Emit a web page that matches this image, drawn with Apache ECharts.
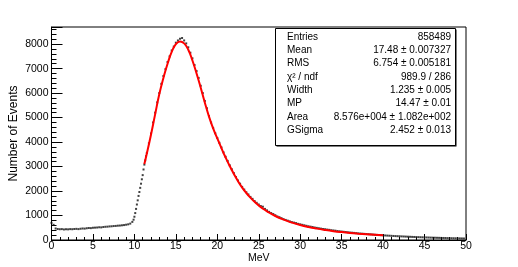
<!DOCTYPE html>
<html><head><meta charset="utf-8">
<script src="https://cdn.jsdelivr.net/npm/echarts@6/dist/echarts.min.js"></script>
<style>html,body{margin:0;padding:0;background:#fff}#c{width:518px;height:267px}</style>
</head><body><div id="c"></div>
<script>
// Histogram points (MeV, events)
const energy = [0,0.25,0.5,0.75,1,1.25,1.5,1.75,2,2.25,2.5,2.75,3,3.25,3.5,3.75,4,4.25,4.5,4.75,5,5.25,5.5,5.75,6,6.25,6.5,6.75,7,7.25,7.5,7.75,8,8.25,8.5,8.75,9,9.25,9.5,9.75,
9.9,10.0,10.1,10.2,10.3,10.4,10.5,10.6,10.7,10.8,10.9,11.0,11.1,11.2,11.3,11.4,11.5,
11.75,12,12.25,12.5,12.75,13,13.25,13.5,13.75,14,14.25,14.5,14.75,15,15.25,15.5,15.75,16,16.25,16.5,16.75,17,17.25,17.5,17.75,18,18.25,18.5,18.75,19,19.25,19.5,19.75,20,20.25,20.5,20.75,21,21.25,21.5,21.75,22,22.25,22.5,22.75,23,23.25,23.5,23.75,24,24.25,24.5,24.75,25,25.25,25.5,25.75,26,26.25,26.5,26.75,27,27.25,27.5,27.75,28,28.25,28.5,28.75,29,29.25,29.5,29.75,30,30.25,30.5,30.75,31,31.25,31.5,31.75,32,32.25,32.5,32.75,33,33.25,33.5,33.75,34,34.25,34.5,34.75,35,35.25,35.5,35.75,36,36.25,36.5,36.75,37,37.25,37.5,37.75,38,38.25,38.5,38.75,39,39.25,39.5,39.75,40,40.25,40.5,40.75,41,41.25,41.5,41.75,42,42.25,42.5,42.75,43,43.25,43.5,43.75,44,44.25,44.5,44.75,45,45.25,45.5,45.75,46,46.25,46.5,46.75,47,47.25,47.5,47.75,48,48.25,48.5,48.75,49,49.25,49.5,49.75];
const events = [700,620,470,450,440,445,430,440,435,445,440,450,455,445,460,470,465,480,490,485,500,505,510,520,515,530,540,545,555,560,570,575,585,590,600,610,625,640,670,740,
830,950,1100,1270,1450,1620,1800,1960,2130,2300,2480,2650,2880,3080,3250,3420,3560,
3950,4350,4800,5200,5620,6000,6380,6700,6980,7270,7500,7740,7900,8060,8150,8220,8250,8150,8030,7870,7650,7420,7150,6900,6620,6300,6000,5680,5380,5060,4800,4580,4360,4170,3970,3780,3580,3400,3230,3050,2890,2730,2570,2430,2300,2170,2060,1950,1860,1760,1680,1590,1520,1450,1390,1360,1270,1210,1150,1100,1060,1010,960,930,890,850,820,790,760,730,710,690,660,640,620,600,580,560,545,530,510,495,480,465,450,440,425,415,400,390,380,365,355,345,335,325,315,305,298,290,280,272,265,258,250,243,236,230,222,215,208,202,197,192,185,180,175,170,165,160,156,152,147,143,139,135,131,127,124,120,117,113,110,107,104,101,98,95,93,90,88,85,83,81,78,76,74,72,70,68,66,64,62];
// Fit curve (MeV, events)
const fitX = [11.2,11.5,12,12.5,13,13.5,14,14.5,15,15.5,16,16.5,17,17.5,18,18.5,19,19.5,20,20.5,21,21.5,22,22.5,23,23.5,24,24.5,25,25.5,26,27,28,29,30,31,32,33,34,35,36,37,38,39,40];
const fitY = [3100,3530,4300,5130,5950,6620,7200,7680,8000,8110,8030,7770,7330,6800,6220,5610,5040,4560,4150,3750,3370,3020,2700,2400,2140,1920,1730,1560,1410,1280,1170,980,830,710,610,530,465,410,362,322,288,260,236,214,196];
const xTicks = {min:0, max:50, step:5};
const yTicks = {min:0, max:8700, step:1000};
const statLabels = ['Entries','Mean','RMS','χ² / ndf','Width','MP','Area','GSigma'];
const statValues = ['858489','17.48 ± 0.007327','6.754 ± 0.005181','989.9 / 286','1.235 ± 0.005','14.47 ± 0.01','8.576e+004 ± 1.082e+002','2.452 ± 0.013'];

const FONT = 'Liberation Sans, Arial, Helvetica, sans-serif';
const chart = echarts.init(document.getElementById('c'), null, {renderer:'canvas'});
const pts = energy.map((x,i)=>[x, events[i]]);
const fit = fitX.map((x,i)=>[x, fitY[i]]);

const graphics = [];
const bx = 275, by = 28, bw = 180, bh = 117, rowH = 13.3, row0 = 37;
graphics.push({type:'rect', shape:{x:bx+1.5,y:by+1.5,width:bw,height:bh}, style:{fill:'#000'}, z:10});
graphics.push({type:'rect', shape:{x:bx+0.5,y:by+0.5,width:bw,height:bh}, style:{fill:'#fff', stroke:'#000', lineWidth:1}, z:11});
statLabels.forEach((t,i)=>{
  graphics.push({type:'text', x:bx+12, y:row0+rowH*i, z:12, style:{text:t, font:'10px '+FONT, fill:'#000', textVerticalAlign:'middle', textAlign:'left'}});
  graphics.push({type:'text', x:bx+bw-4, y:row0+rowH*i, z:12, style:{text:statValues[i], font:'10px '+FONT, fill:'#000', textVerticalAlign:'middle', textAlign:'right'}});
});

chart.setOption({
  animation:false,
  backgroundColor:'#fff',
  grid:{left:51.5, right:52, top:27, bottom:27, containLabel:false, outerBoundsMode:'none', show:true, borderColor:'#000', borderWidth:1, backgroundColor:'transparent'},
  xAxis:{type:'value', min:xTicks.min, max:xTicks.max, interval:xTicks.step,
    name:'MeV', nameLocation:'middle', nameGap:13, nameMoveOverlap:false, nameTextStyle:{fontFamily:FONT, fontSize:10.5, color:'#000'},
    axisLine:{show:true, lineStyle:{color:'#000', width:1}},
    axisTick:{show:true, inside:true, length:6, lineStyle:{color:'#000'}},
    minorTick:{show:true, splitNumber:5, length:3, lineStyle:{color:'#000'}},
    axisLabel:{fontFamily:FONT, fontSize:10.5, color:'#000', margin:1, formatter:v=>String(v)},
    splitLine:{show:false}},
  yAxis:{type:'value', min:yTicks.min, max:yTicks.max, interval:yTicks.step,
    name:'Number of Events', nameLocation:'middle', nameGap:32, nameMoveOverlap:false, nameRotate:90, nameTextStyle:{fontFamily:FONT, fontSize:12, color:'#000'},
    axisLine:{show:true, lineStyle:{color:'#000', width:1}},
    axisTick:{show:true, inside:true, length:11, lineStyle:{color:'#000'}},
    minorTick:{show:true, splitNumber:5, length:5, lineStyle:{color:'#000'}},
    axisLabel:{fontFamily:FONT, fontSize:10.5, color:'#000', margin:3, showMaxLabel:false, formatter:v=>String(v)},
    splitLine:{show:false}},
  series:[
    {type:'scatter', data:pts, symbol:'rect', symbolSize:2, itemStyle:{color:'#111'}, z:2, silent:true},
    {type:'line', data:fit, smooth:0.5, showSymbol:false, lineStyle:{color:'#ff0000', width:2}, z:3, silent:true}
  ],
  graphic:graphics
});
</script></body></html>
